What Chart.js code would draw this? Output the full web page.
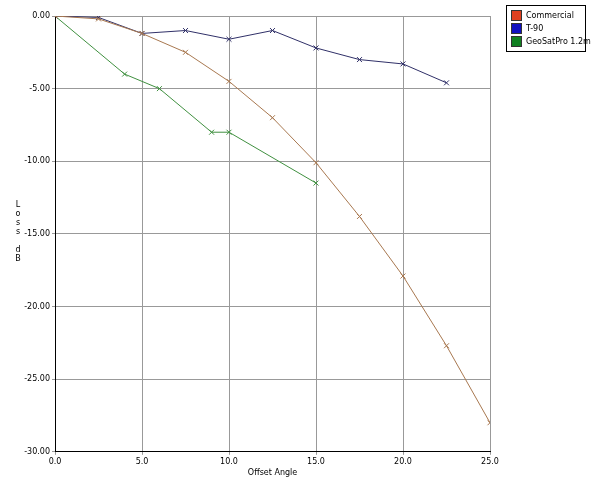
<!DOCTYPE html>
<html><head><meta charset="utf-8">
<script src="https://cdn.jsdelivr.net/npm/chart.js"></script>
<style>
html,body{margin:0;padding:0;background:#fff;}
#wrap{position:relative;width:592px;height:480px;}
#legend{position:absolute;left:506px;top:5px;width:80px;border:1px solid #000;font:8px "DejaVu Sans",sans-serif;padding:3px 4px;box-sizing:border-box;background:#fff}
#legend div{display:flex;align-items:center;height:13px;white-space:nowrap}
#legend span.sw{display:inline-block;flex:0 0 auto;width:9px;height:9px;border:1px solid #333;margin-right:4px}
</style></head><body>
<div id="wrap"><canvas id="c" width="592" height="480"></canvas><div id="legend"></div></div>
<script>
const seriesNames=["Commercial","T-90","GeoSatPro 1.2m"];
const yTitle="Loss dB";
const xTitle="Offset Angle";
const commercialX=[0,2.5,5,7.5,10,12.5,15,17.5,20,22.5,25];
const commercialY=[0,-0.2,-1.2,-2.5,-4.5,-7.0,-10.1,-13.8,-17.9,-22.7,-28.0];
const t90X=[0,2.5,5,7.5,10,12.5,15,17.5,20,22.5];
const t90Y=[0,-0.1,-1.2,-1.0,-1.6,-1.0,-2.2,-3.0,-3.3,-4.6];
const geoX=[0,4,6,9,10,15];
const geoY=[0,-4.0,-5.0,-8.0,-8.0,-11.5];
const lineColors=["#a87850","#303068","#409040"];
const swatchColors=["#e04020","#1010c0","#108020"];
const toPts=(xs,ys)=>xs.map((x,i)=>({x:x,y:ys[i]}));
const datasets=[toPts(commercialX,commercialY),toPts(t90X,t90Y),toPts(geoX,geoY)].map((d,i)=>({
 label:seriesNames[i],data:d,showLine:true,borderColor:lineColors[i],backgroundColor:lineColors[i],
 borderWidth:1,pointStyle:'crossRot',pointRadius:3.5,pointBorderWidth:1,tension:0}));
const lg=document.getElementById('legend');
seriesNames.forEach((n,i)=>{const d=document.createElement('div');d.innerHTML='<span class="sw" style="background:'+swatchColors[i]+'"></span>'+n;lg.appendChild(d);});
const yTitlePlugin={id:'ytitle',afterDraw(ch){const c=ch.ctx,a=ch.chartArea;c.save();c.font='8px "DejaVu Sans"';c.fillStyle='#000';c.textAlign='center';
 const chars=yTitle.split('');const step=9;let y=(a.top+a.bottom)/2-(chars.length-1)*step/2;
 chars.forEach(ch2=>{c.fillText(ch2,18,y);y+=step;});c.restore();}};
new Chart(document.getElementById('c'),{type:'scatter',data:{datasets},plugins:[yTitlePlugin],
options:{responsive:false,animation:false,
 layout:{padding:{top:16,right:102,bottom:2,left:0}},
 plugins:{legend:{display:false},tooltip:{enabled:false}},
 scales:{
  x:{type:'linear',min:0,max:25,ticks:{stepSize:5,callback:v=>v.toFixed(1),font:{size:8,family:'DejaVu Sans'},color:'#000',padding:2},
     grid:{color:'#999',tickLength:3},border:{color:'#000'},
     title:{display:true,text:xTitle,font:{size:8,family:'DejaVu Sans'},color:'#000',padding:{top:0,bottom:0}}},
  y:{type:'linear',min:-30,max:0,ticks:{stepSize:5,callback:v=>v.toFixed(2),font:{size:8,family:'DejaVu Sans'},color:'#000',padding:2},
     grid:{color:'#999',tickLength:3},border:{color:'#000'},
     afterFit:s=>{s.width=55;}}
 }}});
</script></body></html>
